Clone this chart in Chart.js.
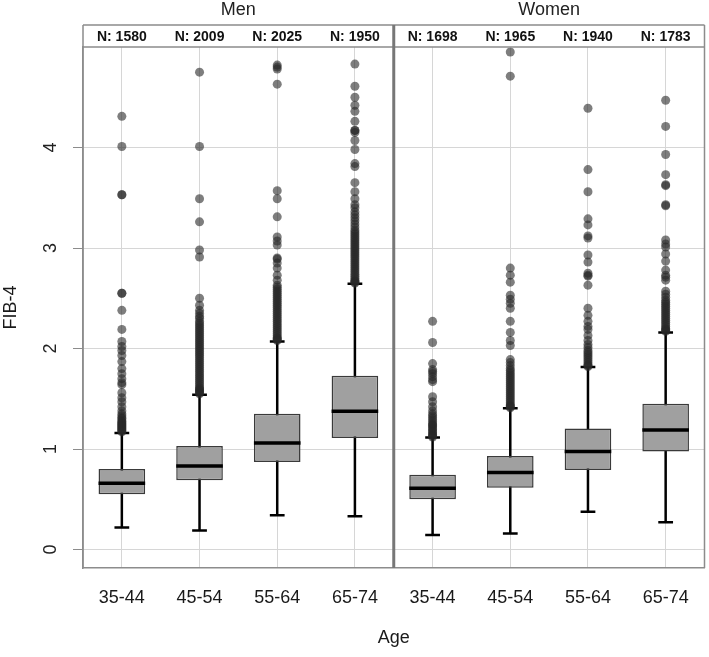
<!DOCTYPE html>
<html>
<head>
<meta charset="utf-8">
<script src="https://cdn.jsdelivr.net/npm/chart.js@4.4.1/dist/chart.umd.min.js"></script>
<style>
  body { margin: 0; background: #fff; }
  #wrap { width: 709px; height: 657px; }
</style>
</head>
<body>
<div id="wrap"><canvas id="fibChart" width="709" height="657"></canvas></div>
<script>
// Panels, age groups and group sizes
const panels = ['Men', 'Women'];
const ageGroups = ['35-44', '45-54', '55-64', '65-74', '35-44', '45-54', '55-64', '65-74'];
const nCounts = [1580, 2009, 2025, 1950, 1698, 1965, 1940, 1783];
const yTicks = [0, 1, 2, 3, 4];

// Box stats (Men 35-44 ... Women 65-74)
const whiskerLow = [0.22, 0.19, 0.34, 0.33, 0.145, 0.16, 0.375, 0.27];
const q1 = [0.55, 0.69, 0.87, 1.11, 0.50, 0.615, 0.79, 0.975];
const median = [0.66, 0.83, 1.06, 1.375, 0.61, 0.765, 0.975, 1.19];
const q3 = [0.80, 1.03, 1.35, 1.73, 0.745, 0.93, 1.205, 1.45];
const whiskerHigh = [1.16, 1.54, 2.07, 2.645, 1.115, 1.405, 1.815, 2.16];

// Outliers per group
const outMen1 = [4.31, 4.01, 3.53, 3.53, 2.55, 2.55, 2.38, 2.19, 2.07, 2.02, 1.98, 1.93, 1.87, 1.80, 1.75, 1.70, 1.66, 1.64,
  1.56, 1.51, 1.47, 1.42, 1.38, 1.35, 1.33, 1.31, 1.30, 1.28, 1.27, 1.26, 1.25, 1.24, 1.23, 1.22, 1.21, 1.20, 1.19, 1.18, 1.17];
const outMen2 = [4.75, 4.01, 3.49, 3.26, 2.98, 2.91, 2.50, 2.43, 2.38, 2.35, 2.32, 2.30, 2.27, 2.25, 2.23, 2.21, 2.19, 2.17,
  2.15, 2.13, 2.11, 2.09, 2.07, 2.05, 2.03, 2.01, 1.99, 1.97, 1.95, 1.93, 1.91, 1.89, 1.87, 1.85, 1.83, 1.81, 1.79, 1.77,
  1.75, 1.73, 1.71, 1.69, 1.67, 1.65, 1.63, 1.61, 1.60, 1.59, 1.58, 1.57, 1.56, 1.55];
const outMen3 = [4.82, 4.80, 4.78, 4.63, 3.57, 3.49, 3.31, 3.11, 3.07, 3.03, 2.90, 2.89, 2.85, 2.80, 2.73, 2.68, 2.63, 2.61,
  2.59, 2.57, 2.55, 2.53, 2.51, 2.49, 2.47, 2.45, 2.43, 2.41, 2.39, 2.37, 2.35, 2.33, 2.31, 2.29, 2.27, 2.25, 2.23, 2.21,
  2.19, 2.17, 2.15, 2.13, 2.11, 2.10, 2.09, 2.08];
const outMen4 = [4.83, 4.61, 4.50, 4.42, 4.36, 4.26, 4.17, 4.17, 4.15, 4.07, 3.98, 3.84, 3.81, 3.65, 3.56, 3.49, 3.43, 3.40,
  3.36, 3.33, 3.30, 3.27, 3.24, 3.21, 3.18, 3.16, 3.14, 3.12, 3.10, 3.08, 3.06, 3.04, 3.02, 3.00, 2.98, 2.96, 2.94, 2.92,
  2.90, 2.88, 2.86, 2.84, 2.82, 2.80, 2.78, 2.76, 2.74, 2.72, 2.70, 2.68, 2.67, 2.66, 2.65];
const outWomen1 = [2.27, 2.06, 1.85, 1.79, 1.77, 1.75, 1.72, 1.69, 1.67, 1.52, 1.47, 1.42, 1.38, 1.35, 1.33, 1.31, 1.29,
  1.27, 1.25, 1.24, 1.23, 1.21, 1.20, 1.18, 1.17, 1.15, 1.14, 1.13, 1.12];
const outWomen2 = [4.95, 4.71, 2.80, 2.73, 2.66, 2.53, 2.49, 2.45, 2.40, 2.27, 2.16, 2.08, 2.03, 1.89, 1.86, 1.83, 1.80,
  1.78, 1.76, 1.74, 1.72, 1.70, 1.68, 1.66, 1.64, 1.62, 1.60, 1.58, 1.56, 1.54, 1.52, 1.50, 1.48, 1.46, 1.44, 1.43, 1.42, 1.41];
const outWomen3 = [4.39, 3.78, 3.56, 3.29, 3.23, 3.12, 3.10, 2.93, 2.86, 2.75, 2.73, 2.72, 2.63, 2.40, 2.33, 2.27, 2.22,
  2.19, 2.13, 2.08, 2.04, 2.01, 1.98, 1.96, 1.94, 1.92, 1.90, 1.88, 1.86, 1.84, 1.83, 1.82];
const outWomen4 = [4.47, 4.21, 3.93, 3.73, 3.63, 3.62, 3.43, 3.42, 3.08, 3.04, 3.01, 2.94, 2.87, 2.78, 2.73, 2.71, 2.68,
  2.57, 2.54, 2.51, 2.48, 2.46, 2.44, 2.42, 2.40, 2.38, 2.36, 2.34, 2.32, 2.30, 2.28, 2.26, 2.24, 2.22, 2.20, 2.19, 2.18, 2.17];
const outliers = [outMen1, outMen2, outMen3, outMen4, outWomen1, outWomen2, outWomen3, outWomen4];

const FONT = '"Liberation Sans", Arial, sans-serif';
const FRAME = '#8c8c8c';
const GRID = '#d6d6d6';

// Datasets: boxes as floating bars, outliers as scatter points
const datasets = [{
  type: 'bar',
  data: q1.map((v, i) => ({ x: i, y: [v, q3[i]] })),
  backgroundColor: '#a0a0a0',
  borderColor: '#3a3a3a',
  borderWidth: 1.5,
  borderSkipped: false,
  barPercentage: 0.6,
  categoryPercentage: 1,
  order: 1
}];
outliers.forEach((arr, i) => {
  datasets.push({
    type: 'scatter',
    data: arr.map(v => ({ x: i, y: v })),
    backgroundColor: 'rgba(40,40,40,0.6)',
    borderColor: 'rgba(0,0,0,0)',
    borderWidth: 0,
    pointRadius: 4.5,
    order: 0
  });
});

// Whiskers, caps, medians, strip and frame
const boxParts = {
  id: 'boxParts',
  beforeDatasetsDraw(chart) {
    const { ctx, scales: { x, y } } = chart;
    const step = x.getPixelForValue(1) - x.getPixelForValue(0);
    ctx.save();
    ctx.strokeStyle = '#000';
    ctx.lineWidth = 2.5;
    whiskerLow.forEach((lo, i) => {
      const cx = x.getPixelForValue(i);
      const yl = y.getPixelForValue(lo);
      const yh = y.getPixelForValue(whiskerHigh[i]);
      const cap = step * 0.095;
      ctx.beginPath();
      ctx.moveTo(cx, yl); ctx.lineTo(cx, yh);
      ctx.moveTo(cx - cap, yl); ctx.lineTo(cx + cap, yl);
      ctx.moveTo(cx - cap, yh); ctx.lineTo(cx + cap, yh);
      ctx.stroke();
    });
    ctx.restore();
  },
  afterDatasetsDraw(chart) {
    const { ctx, scales: { y } } = chart;
    const bars = chart.getDatasetMeta(0).data;
    ctx.save();
    ctx.strokeStyle = '#000';
    ctx.lineWidth = 3.5;
    median.forEach((m, i) => {
      const b = bars[i];
      const ym = y.getPixelForValue(m);
      ctx.beginPath();
      ctx.moveTo(b.x - b.width / 2, ym);
      ctx.lineTo(b.x + b.width / 2, ym);
      ctx.stroke();
    });
    ctx.restore();
  },
  afterDraw(chart) {
    const { ctx, chartArea: ca, scales: { x, y } } = chart;
    const stripTop = ca.top - 22;
    ctx.save();
    // frame and strip
    ctx.strokeStyle = FRAME;
    ctx.lineWidth = 1.5;
    ctx.beginPath();
    ctx.moveTo(ca.left, stripTop); ctx.lineTo(ca.right, stripTop);
    ctx.moveTo(ca.left, ca.top); ctx.lineTo(ca.right, ca.top);
    ctx.moveTo(ca.left, stripTop); ctx.lineTo(ca.left, ca.bottom);
    ctx.moveTo(ca.right, stripTop); ctx.lineTo(ca.right, ca.bottom);
    ctx.stroke();
    const sep = x.getPixelForValue(3.5);
    ctx.strokeStyle = '#777';
    ctx.lineWidth = 3;
    ctx.beginPath();
    ctx.moveTo(sep, stripTop); ctx.lineTo(sep, ca.bottom);
    ctx.stroke();

    // N labels
    ctx.fillStyle = '#111';
    ctx.textAlign = 'center';
    ctx.textBaseline = 'middle';
    ctx.font = 'bold 14px ' + FONT;
    nCounts.forEach((n, i) => {
      ctx.fillText('N: ' + n, x.getPixelForValue(i), (stripTop + ca.top) / 2 + 1);
    });

    // panel titles
    ctx.fillStyle = '#222';
    ctx.font = '18px ' + FONT;
    panels.forEach((p, k) => {
      const cx = (x.getPixelForValue(k * 4 - 0.5) + x.getPixelForValue(k * 4 + 3.5)) / 2;
      ctx.fillText(p, cx, 10);
    });

    // rotated y tick labels
    yTicks.forEach(v => {
      ctx.save();
      ctx.translate(51, y.getPixelForValue(v));
      ctx.rotate(-Math.PI / 2);
      ctx.fillText(String(v), 0, 0);
      ctx.restore();
    });
    ctx.restore();
  }
};

const chart = new Chart(document.getElementById('fibChart'), {
  type: 'bar',
  data: { datasets },
  options: {
    responsive: false,
    animation: false,
    layout: { padding: { top: 47, right: 2, left: 0, bottom: 0 } },
    plugins: { legend: { display: false }, tooltip: { enabled: false } },
    scales: {
      x: {
        type: 'linear',
        min: -0.5,
        max: 7.5,
        offset: false,
        afterBuildTicks: s => { s.ticks = ageGroups.map((_, i) => ({ value: i })); },
        afterFit: s => { s.height = 89; },
        ticks: {
          callback: v => ageGroups[v],
          autoSkip: false,
          maxRotation: 0,
          padding: 19,
          color: '#1a1a1a',
          font: { family: FONT, size: 18 }
        },
        grid: { color: GRID, drawTicks: false, offset: false },
        border: { color: FRAME, width: 1.5 },
        title: {
          display: true,
          text: 'Age',
          color: '#1a1a1a',
          font: { family: FONT, size: 18 },
          padding: { top: 0, bottom: 8 }
        }
      },
      y: {
        min: -0.184,
        max: 5.0,
        afterBuildTicks: s => { s.ticks = yTicks.map(v => ({ value: v })); },
        afterFit: s => { s.width = 83; },
        ticks: { display: false },
        grid: { color: GRID, tickColor: FRAME, tickLength: 10 },
        border: { color: FRAME, width: 1.5 },
        title: {
          display: true,
          text: 'FIB-4',
          color: '#1a1a1a',
          font: { family: FONT, size: 18 },
          padding: { top: 0, bottom: 0 }
        }
      }
    }
  },
  plugins: [boxParts]
});
</script>
</body>
</html>
